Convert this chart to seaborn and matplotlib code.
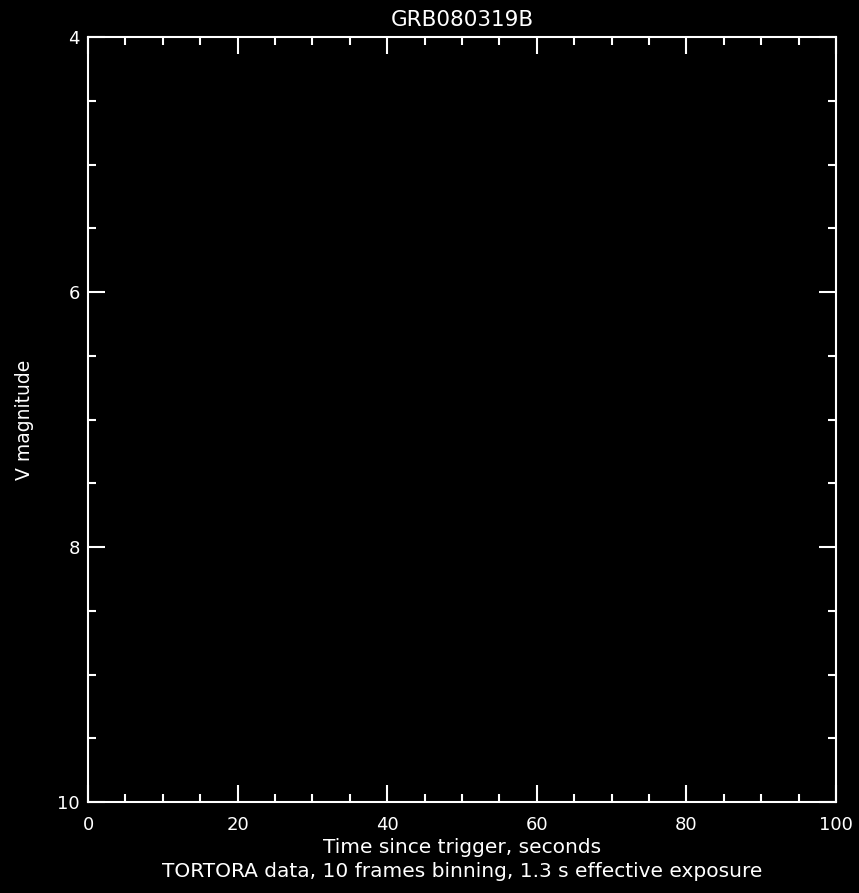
import matplotlib
matplotlib.use("Agg")
import matplotlib.pyplot as plt
import seaborn as sns
import pandas as pd
from matplotlib.ticker import MultipleLocator

# Data (the reference panel shows no plotted points)
time_s = []
v_mag = []
x_ticks = [0, 20, 40, 60, 80, 100]
y_ticks = [4, 6, 8, 10]
title = "GRB080319B"
xlabel = "Time since trigger, seconds\nTORTORA data, 10 frames binning, 1.3 s effective exposure"
ylabel = "V magnitude"

sns.set_style("ticks")
plt.rcParams["font.family"] = ["DejaVu Sans"]
plt.rcParams["figure.facecolor"] = "black"
plt.rcParams["savefig.facecolor"] = "black"

fig = plt.figure(figsize=(8.59, 8.93), dpi=100)
L, R, T, B = 88, 836, 37, 802
ax = fig.add_axes([L/859, 1-B/893, (R-L)/859, (B-T)/893])
ax.set_facecolor("black")

df = pd.DataFrame({"t": pd.Series(time_s, dtype=float), "v": pd.Series(v_mag, dtype=float)})
sns.scatterplot(data=df, x="t", y="v", ax=ax, color="white", s=10)

ax.set_xlim(0, 100)
ax.set_ylim(10, 4)
ax.set_xticks(x_ticks)
ax.set_yticks(y_ticks)
ax.set_xticklabels([str(v) for v in x_ticks])
ax.set_yticklabels([str(v) for v in y_ticks])
ax.xaxis.set_minor_locator(MultipleLocator(5))
ax.yaxis.set_minor_locator(MultipleLocator(0.5))

for sp in ax.spines.values():
    sp.set_color("white")
    sp.set_linewidth(1.5)

ax.tick_params(which="both", direction="in", top=True, right=True, colors="white",
               labelsize=13)
ax.tick_params(which="major", length=12, width=1.5)
ax.tick_params(which="minor", length=6, width=1.5)
ax.tick_params(axis="x", which="major", pad=10)
ax.tick_params(axis="y", which="major", pad=6)

ax.set_title(title, color="white", fontsize=15.5, pad=8)
ax.set_xlabel(xlabel, color="white", fontsize=14.5, labelpad=3, linespacing=1.3)
ax.set_ylabel(ylabel, color="white", fontsize=13.5)
ax.yaxis.set_label_coords((34 - L) / (R - L), 0.5)

fig.savefig("out.png", dpi=100, facecolor="black")
